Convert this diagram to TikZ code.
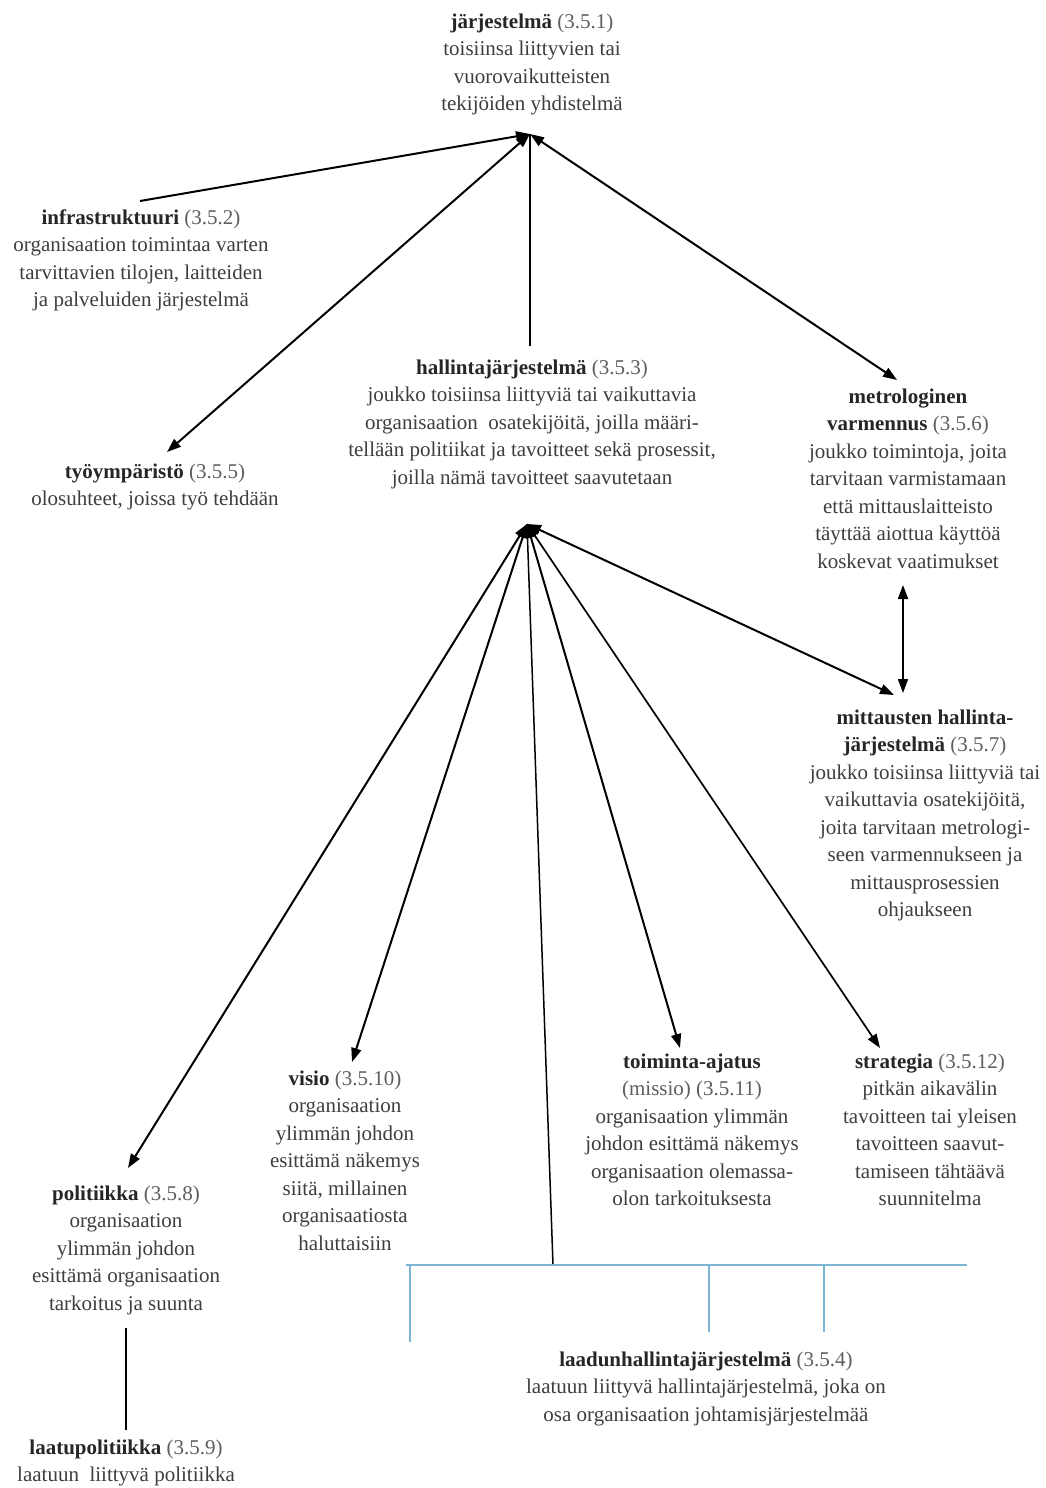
\documentclass[tikz,border=0pt]{standalone}
\usepackage{fontspec}
\setmainfont{Liberation Serif}
\usetikzlibrary{arrows.meta}
\definecolor{headclr}{HTML}{262626}
\definecolor{bodyclr}{HTML}{3E3E3E}
\definecolor{numclr}{HTML}{5E5E5E}
\definecolor{barclr}{HTML}{7DB3D3}
% bold term followed by its clause number
\newcommand{\termhead}[2]{\textbf{\color{headclr}#1}~{\color{numclr}(#2)}}
\newcommand{\termbold}[1]{\textbf{\color{headclr}#1}}

\begin{document}
\begin{tikzpicture}[x=1pt,y=-1pt,
  concept/.style={align=center, inner sep=0pt, anchor=north, text=bodyclr,
                  font=\fontsize{21}{27.5}\selectfont},
  link/.style={line width=2pt, draw=black},
  thin/.style={line width=1.3pt, draw=black},
  bar/.style={line width=1.3pt, draw=barclr},
  tipend/.style={-{Triangle[length=14pt,width=10pt]}},
  bothends/.style={{Triangle[length=14pt,width=10pt]}-{Triangle[length=14pt,width=10pt]}}]

\useasboundingbox[fill=white] (0,0) rectangle (1046,1488);

% ---- concept texts ----
\node[concept] (jarj) at (532,13.5) {\termhead{järjestelmä}{3.5.1}\\toisiinsa liittyvien tai\\vuorovaikutteisten\\tekijöiden yhdistelmä};
\node[concept] (infra) at (141,209.5) {\termhead{infrastruktuuri}{3.5.2}\\organisaation toimintaa varten\\tarvittavien tilojen, laitteiden\\ja palveluiden järjestelmä};
\node[concept] (hall) at (532,359.5) {\termhead{hallintajärjestelmä}{3.5.3}\\joukko toisiinsa liittyviä tai vaikuttavia\\organisaation\ \ osatekijöitä, joilla määri-\\tellään politiikat ja tavoitteet sekä prosessit,\\joilla nämä tavoitteet saavutetaan};
\node[concept] (tyo) at (155,463.5) {\termhead{työympäristö}{3.5.5}\\olosuhteet, joissa työ tehdään};
\node[concept] (metro) at (908,388.5) {\termbold{metrologinen}\\\termhead{varmennus}{3.5.6}\\joukko toimintoja, joita\\tarvitaan varmistamaan\\että mittauslaitteisto\\täyttää aiottua käyttöä\\koskevat vaatimukset};
\node[concept] (mitt) at (925,709.5) {\termbold{mittausten hallinta-}\\\termhead{järjestelmä}{3.5.7}\\joukko toisiinsa liittyviä tai\\vaikuttavia osatekijöitä,\\joita tarvitaan metrologi-\\seen varmennukseen ja\\mittausprosessien\\ohjaukseen};
\node[concept] (visio) at (345,1070.5) {\termhead{visio}{3.5.10}\\organisaation\\ylimmän johdon\\esittämä näkemys\\siitä, millainen\\organisaatiosta\\haluttaisiin};
\node[concept] (toim) at (692,1053.5) {\termbold{toiminta-ajatus}\\{\color{numclr}(missio) (3.5.11)}\\organisaation ylimmän\\johdon esittämä näkemys\\organisaation olemassa-\\olon tarkoituksesta};
\node[concept] (strat) at (930,1053.5) {\termhead{strategia}{3.5.12}\\pitkän aikavälin\\tavoitteen tai yleisen\\tavoitteen saavut-\\tamiseen tähtäävä\\suunnitelma};
\node[concept] (polit) at (126,1185.5) {\termhead{politiikka}{3.5.8}\\organisaation\\ylimmän johdon\\esittämä organisaation\\tarkoitus ja suunta};
\node[concept] (laatup) at (126,1439.5) {\termhead{laatupolitiikka}{3.5.9}\\laatuun\ \ liittyvä politiikka};
\node[concept] (laadun) at (706,1351.5) {\termhead{laadunhallintajärjestelmä}{3.5.4}\\laatuun liittyvä hallintajärjestelmä, joka on\\osa organisaation johtamisjärjestelmää};

% ---- junction points and connector ends ----
\coordinate (hubA) at (530,134);
\coordinate (hubB) at (527,524);
\coordinate (infraTop) at (140,201);
\coordinate (tyoTip) at (167,452);
\coordinate (metroTip) at (897,380);
\coordinate (hallTop) at (530,346);
\coordinate (politTip) at (128,1168);
\coordinate (visioTip) at (352,1062);
\coordinate (toimTip) at (680,1048);
\coordinate (stratTip) at (880,1048);
\coordinate (mittTip) at (894,695);
\coordinate (metroLow) at (903,585);
\coordinate (mittUp) at (903,693);
\coordinate (barJoin) at (553,1265);
\coordinate (barL) at (406,1265);
\coordinate (barR) at (967,1265);
\coordinate (tickA) at (410,1265);
\coordinate (tickAend) at (410,1342);
\coordinate (tickB) at (709,1265);
\coordinate (tickBend) at (709,1332);
\coordinate (tickC) at (824,1265);
\coordinate (tickCend) at (824,1332);
\coordinate (politBot) at (126,1328);
\coordinate (laatupTop) at (126,1430);

% ---- links to järjestelmä ----
\draw[link,tipend] (infraTop) -- (hubA);
\draw[link,bothends] (hubA) -- (tyoTip);
\draw[link,bothends] (hubA) -- (metroTip);
\draw[thin,line width=1.6pt] (hubA) -- (hallTop);

% ---- links to hallintajärjestelmä ----
\draw[link,bothends] (hubB) -- (politTip);
\draw[link,bothends] (hubB) -- (visioTip);
\draw[link,bothends] (hubB) -- (toimTip);
\draw[thin,line width=1.5pt] (hubB) -- (barJoin);
\draw[link,line width=1.7pt,bothends] (hubB) -- (stratTip);
\draw[link,bothends] (hubB) -- (mittTip);
\draw[link,line width=1.7pt,bothends] (metroLow) -- (mittUp);

% ---- laadunhallintajärjestelmä bracket ----
\draw[bar] (barL) -- (barR);
\draw[bar] (tickA) -- (tickAend);
\draw[bar] (tickB) -- (tickBend);
\draw[bar] (tickC) -- (tickCend);

% ---- politiikka to laatupolitiikka ----
\draw[thin] (politBot) -- (laatupTop);
\end{tikzpicture}
\end{document}
